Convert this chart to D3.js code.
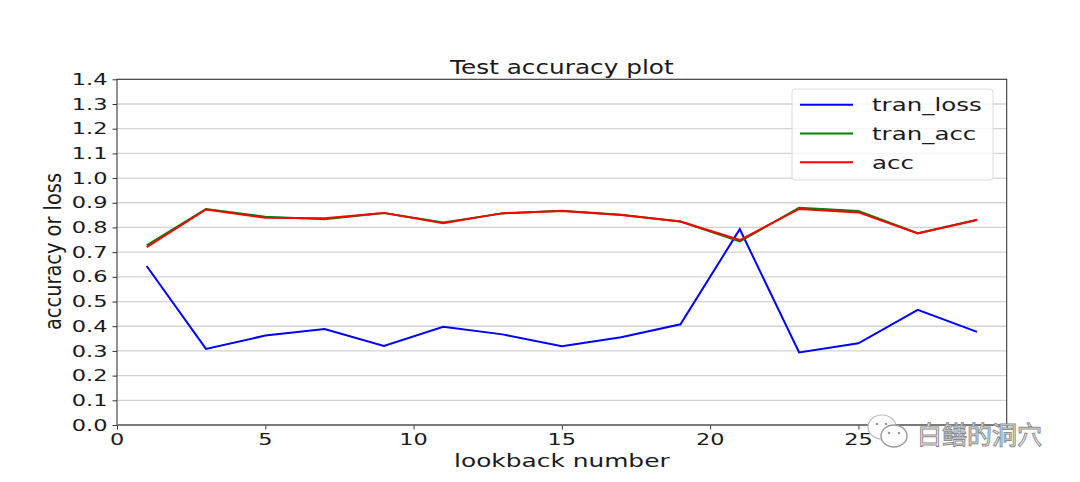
<!DOCTYPE html>
<html>
<head>
<meta charset="utf-8">
<script src="https://cdn.jsdelivr.net/npm/d3@7"></script>
<style>
  html, body { margin: 0; padding: 0; background: #fff; }
  svg { display: block; }
  text { font-family: "DejaVu Sans", sans-serif; fill: #1a1a1a; }
</style>
</head>
<body>
<svg id="chart" width="1080" height="482"></svg>
<script>
// ---- data ----
const lookback = [1, 3, 5, 7, 9, 11, 13, 15, 17, 19, 21, 23, 25, 27, 29];
const tranLoss = [0.644, 0.308, 0.362, 0.389, 0.320, 0.398, 0.367, 0.319, 0.355, 0.408, 0.793, 0.294, 0.331, 0.466, 0.377];
const tranAcc  = [0.728, 0.875, 0.843, 0.833, 0.859, 0.820, 0.857, 0.868, 0.851, 0.824, 0.743, 0.880, 0.867, 0.777, 0.831];
const accVals  = [0.720, 0.873, 0.839, 0.837, 0.859, 0.817, 0.858, 0.867, 0.850, 0.824, 0.749, 0.875, 0.861, 0.776, 0.830];
const xTicks = [0, 5, 10, 15, 20, 25, 30];
const xTickLabels = ["0", "5", "10", "15", "20", "25", ""]; // last label hidden under watermark
const yTicks = [0.0, 0.1, 0.2, 0.3, 0.4, 0.5, 0.6, 0.7, 0.8, 0.9, 1.0, 1.1, 1.2, 1.3, 1.4];
const seriesNames = ["tran_loss", "tran_acc", "acc"];
const seriesColors = ["#0000ff", "#008000", "#ff0000"];
const title = "Test accuracy plot";
const xLabel = "lookback number";
const yLabel = "accuracy or loss";
const watermark = "白鳝的洞穴";

const series = [tranLoss, tranAcc, accVals];

// ---- layout ----
const svg = d3.select("#chart");
const L = 117, R = 1006.7, T = 79.3, B = 425;
const x = d3.scaleLinear().domain([0, 30]).range([L, R]);
const y = d3.scaleLinear().domain([0, 1.4]).range([B, T]);

function stretchText(g, str, px, py, size, sx, anchor) {
  return g.append("text")
    .attr("transform", `translate(${px},${py}) scale(${sx},1)`)
    .attr("text-anchor", anchor || "start")
    .style("font-size", size + "px")
    .text(str);
}

// grid
svg.append("g").selectAll("line").data(yTicks).join("line")
  .attr("x1", L).attr("x2", R)
  .attr("y1", d => y(d)).attr("y2", d => y(d))
  .attr("stroke", "#d3d3d3").attr("stroke-width", 1.3);

// axes
const yAxis = d3.axisLeft(y).tickValues(yTicks).tickSize(4.5).tickFormat("");
const xAxis = d3.axisBottom(x).tickValues(xTicks).tickSize(4.5).tickFormat("");
const gy = svg.append("g").attr("transform", `translate(${L},0)`).call(yAxis);
const gx = svg.append("g").attr("transform", `translate(0,${B})`).call(xAxis);
[gx, gy].forEach(g => {
  g.select(".domain").remove();
  g.selectAll(".tick line").attr("stroke", "#333").attr("stroke-width", 1);
});

// tick labels
const tl = svg.append("g");
yTicks.forEach(v => stretchText(tl, d3.format(".1f")(v), L - 9.5, y(v) + 5.6, 15.3, 1.47, "end"));
xTicks.forEach((v, i) => {
  if (xTickLabels[i]) stretchText(tl, xTickLabels[i], x(v), B + 20.3, 16, 1.4, "middle");
});

// lines
const line = d3.line().x((d, i) => x(lookback[i])).y(d => y(d));
series.forEach((s, k) => {
  svg.append("path").datum(s)
    .attr("d", line)
    .attr("fill", "none")
    .attr("stroke", seriesColors[k])
    .attr("stroke-width", 2)
    .attr("stroke-linejoin", "miter");
});

// spines
svg.append("rect").attr("x", L).attr("y", T).attr("width", R - L).attr("height", B - T)
  .attr("fill", "none").attr("stroke", "#3a3a3a").attr("stroke-width", 1.1);
svg.append("line").attr("x1", L).attr("x2", R).attr("y1", B).attr("y2", B)
  .attr("stroke", "#777").attr("stroke-width", 1.6);

// title and labels
stretchText(svg, title, (L + R) / 2, 74.3, 19.5, 1.27, "middle");
stretchText(svg, xLabel, (L + R) / 2, 466.5, 17.5, 1.42, "middle");
svg.append("text")
  .attr("transform", `translate(61,${(173 + 330) / 2}) scale(1.22,1) rotate(-90)`)
  .attr("text-anchor", "middle")
  .style("font-size", "19.4px")
  .text(yLabel);

// legend
const lg = svg.append("g");
lg.append("rect").attr("x", 792).attr("y", 89).attr("width", 201).attr("height", 91)
  .attr("rx", 3).attr("fill", "#fff").attr("fill-opacity", 0.8)
  .attr("stroke", "#dcdcdc").attr("stroke-width", 1);
const legY = [104.8, 133.5, 162.3];
seriesNames.forEach((n, k) => {
  lg.append("line").attr("x1", 800).attr("x2", 853)
    .attr("y1", legY[k]).attr("y2", legY[k])
    .attr("stroke", seriesColors[k]).attr("stroke-width", 2);
  stretchText(lg, n, 872, legY[k] + 6.6, 17.5, 1.4, "start");
});

// watermark
const wm = svg.append("g");
wm.append("ellipse").attr("cx", 882).attr("cy", 427).attr("rx", 14).attr("ry", 12)
  .attr("fill", "#fff").attr("stroke", "#bbb").attr("stroke-width", 1.2);
wm.append("ellipse").attr("cx", 894).attr("cy", 436).attr("rx", 13).attr("ry", 11)
  .attr("fill", "#fff").attr("stroke", "#999").attr("stroke-width", 1.4);
[[877, 424], [886, 424], [889, 433], [899, 433]].forEach(p =>
  wm.append("circle").attr("cx", p[0]).attr("cy", p[1]).attr("r", 1.3).attr("fill", "#999"));
wm.append("text")
  .attr("x", 917).attr("y", 444)
  .style("font-family", "'Noto Sans CJK SC', sans-serif")
  .style("font-size", "25px")
  .style("fill", "#fff")
  .style("stroke", "#8a8a8a")
  .style("stroke-width", 1)
  .text(watermark);
</script>
</body>
</html>
